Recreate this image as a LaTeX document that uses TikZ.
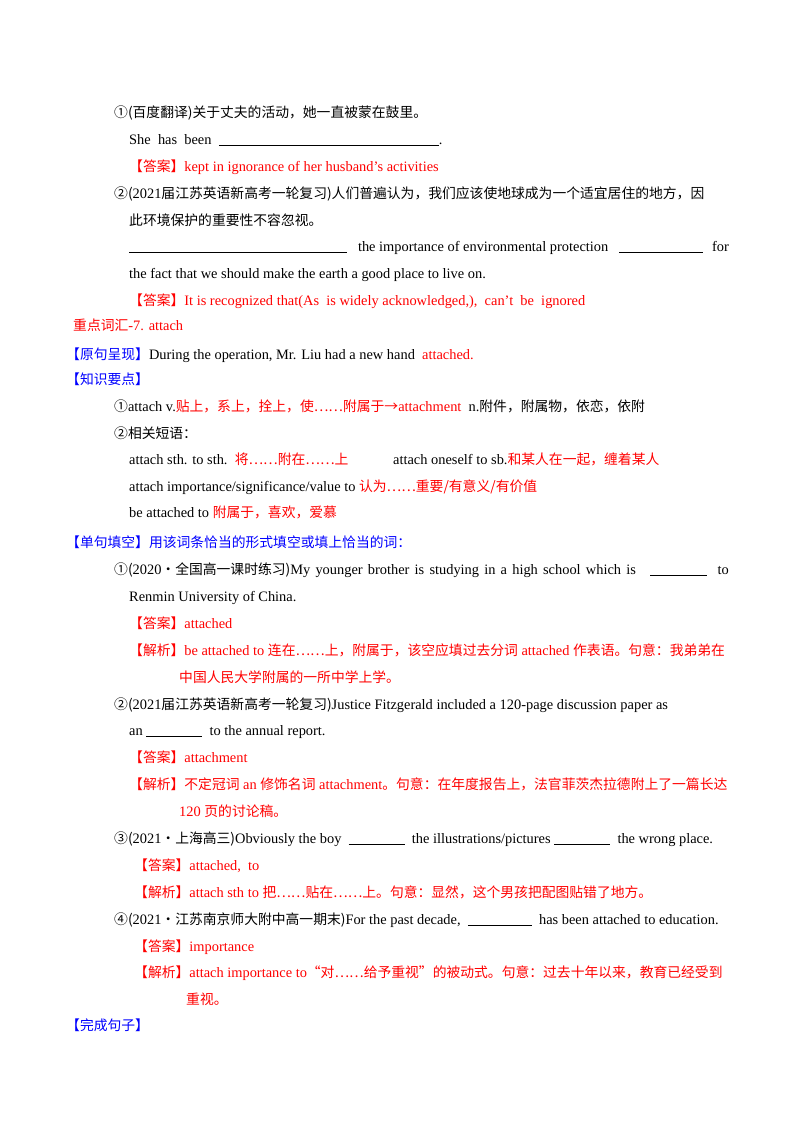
\documentclass[tikz,border=0pt]{standalone}
\usepackage{fontspec}
\setmainfont{Liberation Serif}
\newfontfamily\cjf{Noto Sans CJK SC}
\newcommand{\zh}[1]{{\cjf\fontsize{13.8}{16}\selectfont #1}}
\newcommand{\bl}[1]{\underline{\hspace{#1pt}}}
\newcommand{\ws}{\hspace{5.2pt}}
\definecolor{rd}{RGB}{255,0,0}
\definecolor{bu}{RGB}{0,0,255}
\tikzset{ln/.style={anchor=base west,inner sep=0pt,font=\fontsize{14.4}{17}\selectfont},
 lr/.style={anchor=base east,inner sep=0pt,font=\fontsize{14.4}{17}\selectfont}}
\begin{document}
\begin{tikzpicture}[x=1pt,y=-1pt]
\useasboundingbox (0,0) rectangle (800,1132);
\node[ln] (a1) at (114,117) {\zh{①(百度翻译)关于丈夫的活动，她一直被蒙在鼓里。}};
\node[ln] (a2) at (129,144) {She\ \ has\ \ been\ \ \bl{220}.};
\node[ln,text=rd] (a3) at (129,171) {\zh{【答案】}kept in ignorance of her husband’s activities};
\node[ln] (a4) at (114,198) {\zh{②(}2021\zh{届江苏英语新高考一轮复习)人们普遍认为，我们应该使地球成为一个适宜居住的地方，因}};
\node[ln] (a5) at (129,225) {\zh{此环境保护的重要性不容忽视。}};
\node[ln] (a6) at (129,251) {\bl{218}\ \ \ the importance of environmental protection\ \ \ \bl{84}};
\node[lr] (a6b) at (729,251) {for};
\node[ln] (a7) at (129,278) {the fact that we should make the earth a good place to live on.};
\node[ln,text=rd] (a8) at (129,305) {\zh{【答案】}It is recognized that(As\ \ is widely acknowledged,),\ \ can’t\ \ be\ \ ignored};
\node[ln,text=rd] (a9) at (73,330) {\zh{重点词汇}-7. attach};
\node[ln] (a10) at (66,359) {\zh{\textcolor{bu}{【原句呈现】}}During the operation, Mr. Liu had a new hand\ \ \textcolor{rd}{attached.}};
\node[ln,text=bu] (a11) at (66,384) {\zh{【知识要点】}};
\node[ln] (a12) at (114,411) {\zh{①}attach v.\textcolor{rd}{\zh{贴上，系上，拴上，使……附属于→}attachment}\ \ n.\zh{附件，附属物，依恋，依附}};
\node[ln] (a13) at (114,438) {\zh{②相关短语：}};
\node[ln] (a14) at (129,464) {attach sth. to sth.\ \ \textcolor{rd}{\zh{将……附在……上}}};
\node[ln] (a14b) at (393,464) {attach oneself to sb.\textcolor{rd}{\zh{和某人在一起，缠着某人}}};
\node[ln] (a15) at (129,491) {attach importance/significance/value to \textcolor{rd}{\zh{认为……重要/有意义/有价值}}};
\node[ln] (a16) at (129,517) {be attached to \textcolor{rd}{\zh{附属于，喜欢，爱慕}}};
\node[ln,text=bu] (b1) at (66,547) {\zh{【单句填空】用该词条恰当的形式填空或填上恰当的词：}};
\node[ln] (b2) at (114,574) {\zh{①(}2020\zh{·全国高一课时练习)}My\ws younger\ws brother\ws is\ws studying\ws in\ws a\ws high\ws school\ws which\ws is\ \ \ \ \bl{57}};
\node[lr] (b2b) at (729,574) {to};
\node[ln] (b3) at (129,601) {Renmin University of China.};
\node[ln,text=rd] (b4) at (129,628) {\zh{【答案】}attached};
\node[ln,text=rd] (b5) at (129,655) {\zh{【解析】}be attached to \zh{连在……上，附属于，该空应填过去分词} attached \zh{作表语。句意：我弟弟在}};
\node[ln,text=rd] (b6) at (179,682) {\zh{中国人民大学附属的一所中学上学。}};
\node[ln] (b7) at (114,709) {\zh{②(}2021\zh{届江苏英语新高考一轮复习)}Justice Fitzgerald included a 120-page discussion paper as};
\node[ln] (b8) at (129,735) {an \bl{56}\ \ to the annual report.};
\node[ln,text=rd] (b9) at (129,762) {\zh{【答案】}attachment};
\node[ln,text=rd] (b10) at (129,789) {\zh{【解析】不定冠词} an \zh{修饰名词} attachment\zh{。句意：在年度报告上，法官菲茨杰拉德附上了一篇长达}};
\node[ln,text=rd] (b11) at (179,816) {120 \zh{页的讨论稿。}};
\node[ln] (b12) at (114,843) {\zh{③(}2021\zh{·上海高三)}Obviously the boy\ \ \bl{56}\ \ the illustrations/pictures \bl{56}\ \ the wrong place.};
\node[ln,text=rd] (b13) at (134,870) {\zh{【答案】}attached,\ \ to};
\node[ln,text=rd] (b14) at (134,897) {\zh{【解析】}attach sth to \zh{把……贴在……上。句意：显然，这个男孩把配图贴错了地方。}};
\node[ln] (b15) at (114,924) {\zh{④(}2021\zh{·江苏南京师大附中高一期末)}For the past decade,\ \ \bl{64}\ \ has been attached to education.};
\node[ln,text=rd] (b16) at (134,951) {\zh{【答案】}importance};
\node[ln,text=rd] (b17) at (134,977) {\zh{【解析】}attach importance to\zh{“对……给予重视”的被动式。句意：过去十年以来，教育已经受到}};
\node[ln,text=rd] (b18) at (186,1004) {\zh{重视。}};
\node[ln,text=bu] (b19) at (66,1030) {\zh{【完成句子】}};
\end{tikzpicture}
\end{document}
